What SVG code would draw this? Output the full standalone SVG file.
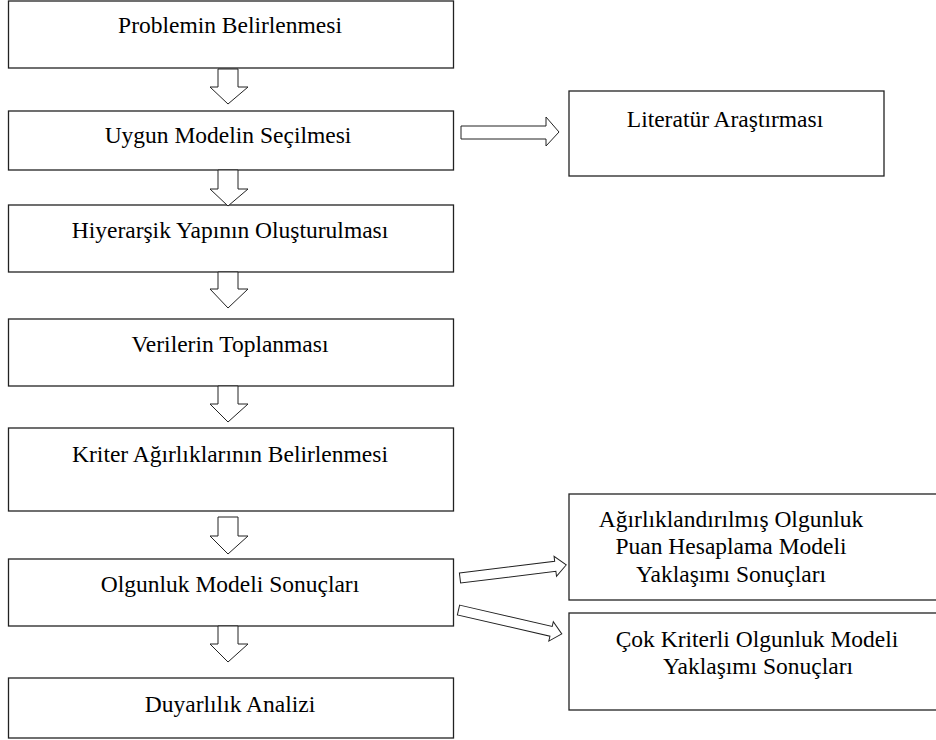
<svg xmlns="http://www.w3.org/2000/svg" width="936" height="740" viewBox="0 0 936 740" font-family="'Liberation Serif', 'Times New Roman', 'DejaVu Serif', serif">
<style>
.box{fill:#fff;stroke:#222;stroke-width:1.3}
.arr{fill:#fff;stroke:#222;stroke-width:1}
.t{font-family:'Liberation Serif','Times New Roman','DejaVu Serif',serif;font-size:23.5px;fill:#000;text-anchor:middle}
</style>
<rect width="936" height="740" fill="#fff"/>
<g id="n1"><rect class="box" x="8.5" y="1" width="445" height="67"/><text class="t" x="230" y="33">Problemin Belirlenmesi</text></g>
<g id="n2"><rect class="box" x="8.5" y="111" width="445" height="59"/><text class="t" x="228" y="143">Uygun Modelin Seçilmesi</text></g>
<g id="n3"><rect class="box" x="8.5" y="205" width="445" height="67"/><text class="t" x="230" y="238">Hiyerarşik Yapının Oluşturulması</text></g>
<g id="n4"><rect class="box" x="8.5" y="319" width="445" height="67"/><text class="t" x="230" y="352">Verilerin Toplanması</text></g>
<g id="n5"><rect class="box" x="8.5" y="428" width="445" height="83"/><text class="t" x="230" y="462">Kriter Ağırlıklarının Belirlenmesi</text></g>
<g id="n6"><rect class="box" x="8.5" y="559" width="445" height="67"/><text class="t" x="230" y="592">Olgunluk Modeli Sonuçları</text></g>
<g id="n7"><rect class="box" x="8.5" y="678" width="445" height="60"/><text class="t" x="230" y="712">Duyarlılık Analizi</text></g>
<g id="n8"><rect class="box" x="569" y="91" width="315" height="85"/><text class="t" x="725" y="127">Literatür Araştırması</text></g>
<g id="n9"><rect class="box" x="569" y="494" width="372" height="106"/><text class="t" x="731" y="527">Ağırlıklandırılmış Olgunluk</text><text class="t" x="731" y="554">Puan Hesaplama Modeli</text><text class="t" x="731" y="582">Yaklaşımı Sonuçları</text></g>
<g id="n10"><rect class="box" x="569" y="613" width="372" height="97"/><text class="t" x="757" y="647">Çok Kriterli Olgunluk Modeli</text><text class="t" x="758" y="674">Yaklaşımı Sonuçları</text></g>
<g id="connectors">
<polygon class="arr" points="218,69 238,69 238,87 248,87 228,104 210,87 218,87"/>
<polygon class="arr" points="218,170 238,170 238,189 248,189 228,206 210,189 218,189"/>
<polygon class="arr" points="218,272 238,272 238,289 248,289 228,308 210,289 218,289"/>
<polygon class="arr" points="218,386 238,386 238,404 248,404 228,422 210,404 218,404"/>
<polygon class="arr" points="218,517 238,517 238,536 248,536 228,554 210,536 218,536"/>
<polygon class="arr" points="218,626 238,626 238,644 248,644 228,662 210,644 218,644"/>
<polygon class="arr" points="461,126 546,126 546,117 559,132 546,146 546,139 461,139"/>
<polygon class="arr" transform="translate(460,578) rotate(-7)" points="0,-5 96,-5 96,-10 107,0 96,10 96,5 0,5"/>
<polygon class="arr" transform="translate(458.5,610) rotate(13)" points="0,-5 95,-5 95,-10 106,0 95,10 95,5 0,5"/>
</g>
</svg>
